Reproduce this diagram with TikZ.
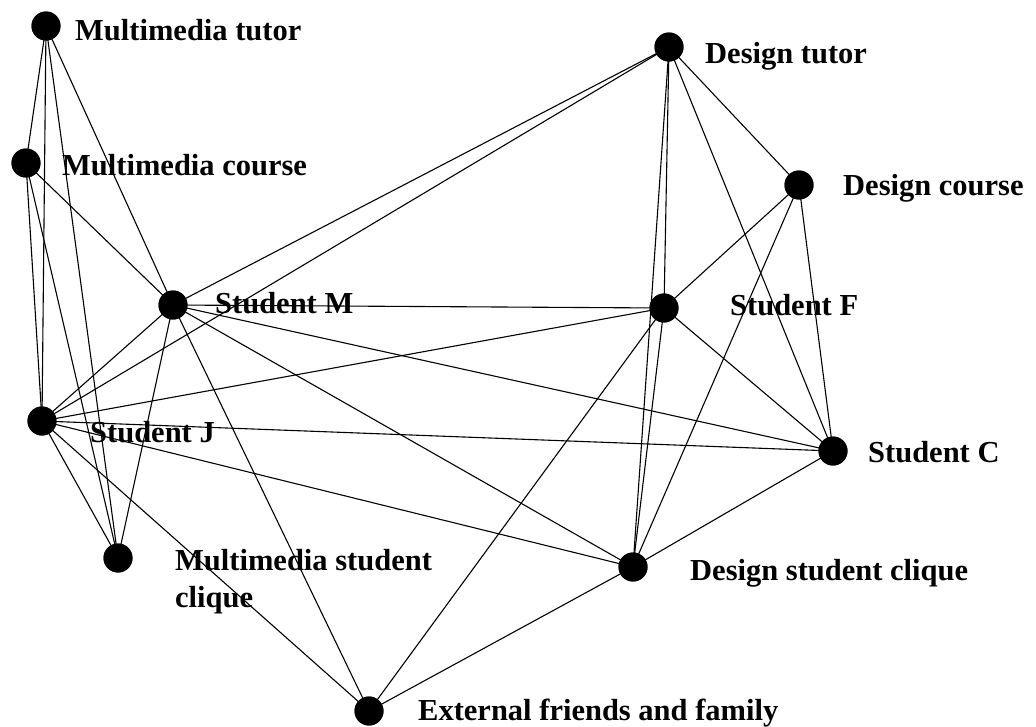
\documentclass[tikz,border=0pt]{standalone}
\usepackage{fontspec}
\setmainfont{Liberation Serif}
\begin{document}
\begin{tikzpicture}[x=1pt,y=-1pt,
  actor/.style={circle,fill=black,draw=none,minimum size=29pt,inner sep=0pt},
  tie/.style={draw=black,line width=1.1pt},
  lbl/.style={anchor=base west,inner sep=0pt,font=\fontsize{30.5}{37}\selectfont\bfseries}]
\useasboundingbox (0,0) rectangle (1036,726);
\fill[white] (0,0) rectangle (1036,726);

% actors
\node[actor] (mt)  at (46,26)   {};
\node[actor] (mc)  at (26,163)  {};
\node[actor] (sm)  at (173,305) {};
\node[actor] (sj)  at (42,421)  {};
\node[actor] (msc) at (118,558) {};
\node[actor] (dt)  at (669,47)  {};
\node[actor] (dc)  at (799,185) {};
\node[actor] (sf)  at (664,308) {};
\node[actor] (sc)  at (833,451) {};
\node[actor] (dsc) at (633,567) {};
\node[actor] (ef)  at (369,711) {};

% ties between actors
\foreach \a/\b in {mt/mc, mt/sj, mt/msc, mt/sm,
                   mc/sj, mc/msc, mc/sm,
                   sm/sj, sm/msc, sm/dt, sm/sf, sm/sc, sm/dsc, sm/ef,
                   sj/msc, sj/dt, sj/sf, sj/sc, sj/dsc, sj/ef,
                   dt/dc, dt/sf, dt/dsc, dt/sc,
                   dc/sf, dc/dsc, dc/sc,
                   sf/sc, sf/dsc, sf/ef,
                   sc/dsc, dsc/ef}
  \draw[tie] (\a.center) -- (\b.center);

% redraw the actors above the ties
\foreach \n in {mt,mc,sm,sj,msc,dt,dc,sf,sc,dsc,ef}
  \fill[black] (\n.center) circle[radius=14.5pt];

% labels
\node[lbl] (lmt)  at (75,40)   {Multimedia tutor};
\node[lbl] (lmc)  at (62,175)  {Multimedia course};
\node[lbl] (lsm)  at (215,313) {Student M};
\node[lbl] (lsj)  at (90,442)  {Student J};
\node[lbl] (lmsc) at (175,570) {\begin{tabular}[t]{@{}l@{}}Multimedia student\\clique\end{tabular}};
\node[lbl] (ldt)  at (705,63)  {Design tutor};
\node[lbl] (ldc)  at (843,195) {Design course};
\node[lbl] (lsf)  at (730,315) {Student F};
\node[lbl] (lsc)  at (868,462) {Student C};
\node[lbl] (ldsc) at (690,580) {Design student clique};
\node[lbl] (lef)  at (418,720) {External friends and family};
\end{tikzpicture}
\end{document}
